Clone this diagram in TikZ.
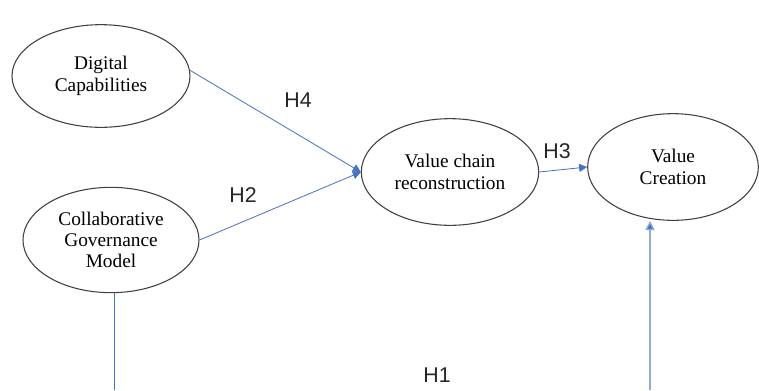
\documentclass[tikz,border=0pt]{standalone}
\usepackage{fontspec}
\setmainfont{Liberation Serif}
\newfontfamily\labelfont{Liberation Sans}
\usetikzlibrary{arrows.meta,shapes.geometric}

\tikzset{
    construct/.style={ellipse, draw=ellipseColour, line width=0.8pt, inner sep=0pt,
        align=center, font=\fontsize{14.5}{16}\selectfont},
    hpath/.style={draw=lineColour, line width=0.6pt, -{Triangle[length=6pt,width=6pt]}},
    hlabel/.style={font=\labelfont\fontsize{16}{18}\selectfont, text=labelColour}
}

\begin{document}
\begin{tikzpicture}[x=0.75pt,y=-0.75pt]
    \definecolor{ellipseColour}{HTML}{404040}
    \definecolor{lineColour}{HTML}{4472C4}
    \definecolor{lightColour}{HTML}{8FAADC}
    \definecolor{labelColour}{HTML}{262626}

    \useasboundingbox (0,0) rectangle (759,390);

    % Constructs (sizes in pt = px*0.75)
    \node[construct, minimum width=133.5pt, minimum height=77pt] (digital) at (101,76) {Digital\\Capabilities};
    \node[construct, minimum width=132pt, minimum height=79pt] (governance) at (111,240) {Collaborative\\Governance\\Model};
    \node[construct, minimum width=133pt, minimum height=80pt] (chain) at (450,172) {Value chain\\reconstruction};
    \node[construct, minimum width=128pt, minimum height=80pt] (creation) at (673,167) {Value\\Creation};

    % Free ends at the bottom edge
    \coordinate (leftEnd) at (114,390);
    \coordinate (rightEnd) at (650,390);

    % Paths
    \draw[hpath] (digital.east) ++(-1,-6) -- (chain.west);
    \draw[hpath] (governance.east) -- (chain.west);
    \draw[hpath] (chain.east) -- (creation.west);
    \draw[draw=lineColour, line width=0.6pt] (leftEnd) -- (leftEnd |- governance.south);
    \draw[draw=lightColour, line width=1pt, -{Triangle[length=7pt,width=7pt,fill=lineColour]}]
        (rightEnd) -- (rightEnd |- creation.south);

    % Hypothesis labels
    \node[hlabel] (h4) at (298,100) {H4};
    \node[hlabel] (h2) at (243,195) {H2};
    \node[hlabel] (h3) at (557,151) {H3};
    \node[hlabel] (h1) at (437,375) {H1};

\end{tikzpicture}
\end{document}
